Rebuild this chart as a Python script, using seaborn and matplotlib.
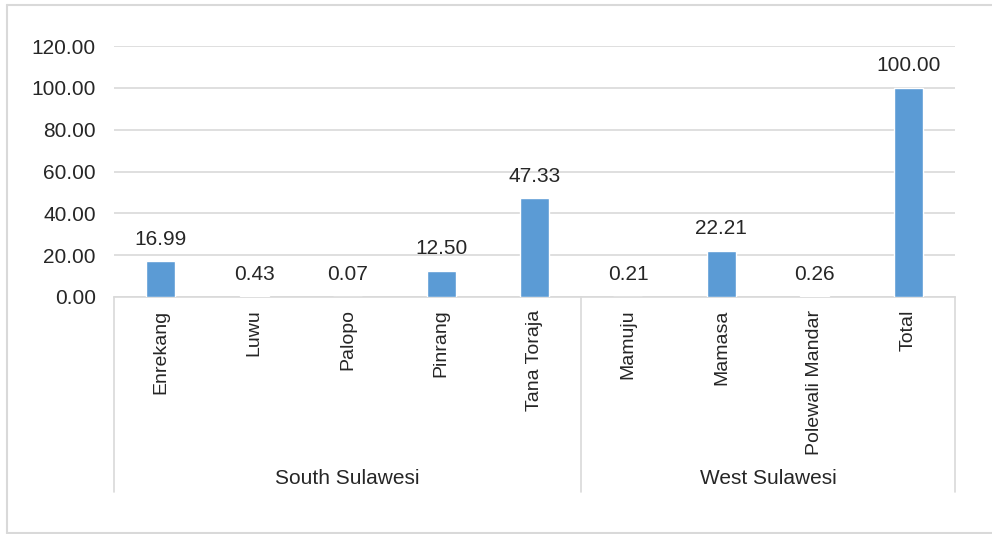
import matplotlib
matplotlib.use("Agg")
import matplotlib.pyplot as plt
import seaborn as sns
import pandas as pd
from matplotlib.lines import Line2D

# data
districts = ["Enrekang", "Luwu", "Palopo", "Pinrang", "Tana Toraja",
             "Mamuju", "Mamasa", "Polewali Mandar", "Total"]
provinces = ["South Sulawesi"] * 5 + ["West Sulawesi"] * 4
shares = [16.99, 0.43, 0.07, 12.50, 47.33, 0.21, 22.21, 0.26, 100.00]
y_ticks = [0, 20, 40, 60, 80, 100, 120]

df = pd.DataFrame({"district": districts, "province": provinces, "share": shares})

sns.set_theme(style="white")
plt.rcParams["font.family"] = ["Liberation Sans", "DejaVu Sans"]
text_col = "#262626"
grid_col = "#d9d9d9"
fs = 15      # horizontal text
fs_rot = 14  # rotated district names

fig = plt.figure(figsize=(9.92, 5.34), dpi=100)
ax = fig.add_axes([114 / 992, 1 - 297 / 534, (955 - 114) / 992, (297 - 46) / 534])

sns.barplot(data=df, x="district", y="share", color="#5B9BD5", width=0.31,
            saturation=1, ax=ax, zorder=3)

ax.set_ylim(0, 120)
ax.set_yticks(y_ticks)
ax.set_yticklabels([f"{v:.2f}" for v in y_ticks], fontsize=fs, color=text_col)
ax.yaxis.grid(True, color=grid_col, linewidth=1.2, zorder=0)
ax.set_axisbelow(True)
ax.set_xlabel("")
ax.set_ylabel("")
ax.tick_params(axis="both", length=0)
ax.tick_params(axis="x", pad=9)
ax.tick_params(axis="y", pad=13)
ax.set_xticks(range(len(districts)))
ax.set_xticklabels(districts, rotation=90, va="top", ha="center",
                   fontsize=fs_rot, color=text_col)
for s in ["top", "right", "left"]:
    ax.spines[s].set_visible(False)
ax.spines["bottom"].set_color(grid_col)
ax.spines["bottom"].set_linewidth(1.2)

# value labels
for p, v in zip(ax.patches, shares):
    ax.annotate(f"{v:.2f}", (p.get_x() + p.get_width() / 2, p.get_height()),
                xytext=(0, 9), textcoords="offset points", ha="center", va="bottom",
                fontsize=fs, color=text_col)

# group separators and labels for the second category level
n = len(districts)
groups = []
for prov in dict.fromkeys(provinces):
    idx = [i for i, pv in enumerate(provinces) if pv == prov]
    groups.append((prov, idx[0] - 0.5, idx[-1] + 0.5))
trans = ax.get_xaxis_transform()
edges = sorted({g[1] for g in groups} | {g[2] for g in groups})
for e in edges:
    ax.add_line(Line2D([e, e], [0, -0.777], transform=trans, color=grid_col,
                       linewidth=1.2, clip_on=False))
for prov, lo, hi in groups:
    ax.text((lo + hi) / 2, -0.725, prov, transform=trans, ha="center", va="center",
            fontsize=fs, color=text_col)
ax.set_xlim(-0.5, n - 0.5)

# outer chart border
for xs, ys in [([7, 7], [5, 533]), ([7, 992], [5, 5]), ([7, 992], [533, 533])]:
    fig.add_artist(Line2D([x / 992 for x in xs], [1 - y / 534 for y in ys],
                          color=grid_col, linewidth=1.5))

fig.savefig("out.png", dpi=100, facecolor="white")
